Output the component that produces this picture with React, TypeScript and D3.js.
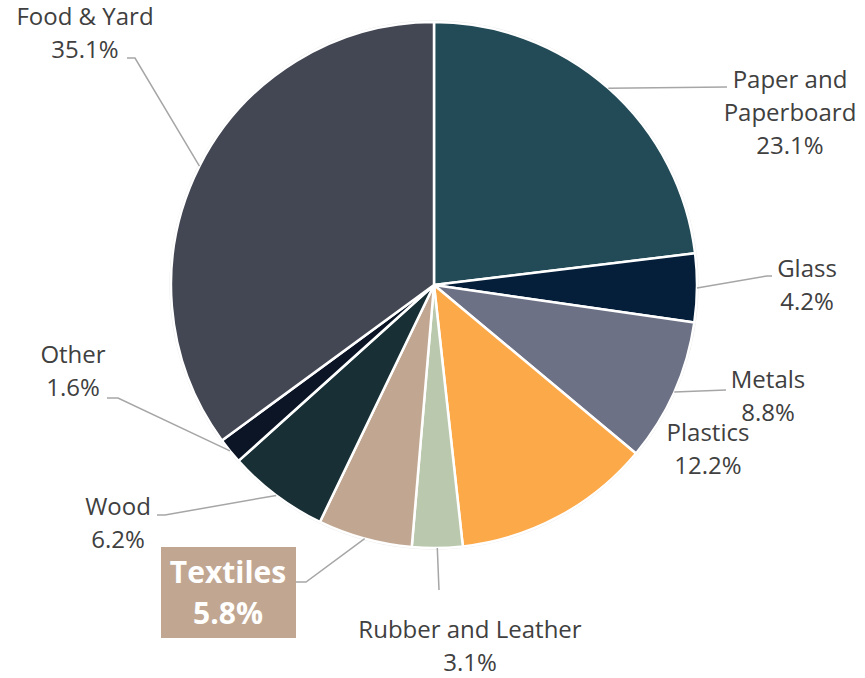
import React, { useRef, useEffect } from 'react';
import * as d3 from 'd3';

const categories = [
  'Paper and Paperboard',
  'Glass',
  'Metals',
  'Plastics',
  'Rubber and Leather',
  'Textiles',
  'Wood',
  'Other',
  'Food & Yard',
];
const shares = [23.1, 4.2, 8.8, 12.2, 3.1, 5.8, 6.2, 1.6, 35.1];
const colors = [
  '#224b57',
  '#051e3a',
  '#6d7186',
  '#fca94a',
  '#bac8ad',
  '#c1a792',
  '#172f35',
  '#0b1526',
  '#434653',
];

// label text lines and where they sit (layout only)
const labelLines: string[][] = [
  ['Paper and', 'Paperboard'],
  ['Glass'],
  ['Metals'],
  ['Plastics'],
  ['Rubber and Leather'],
  ['Textiles'],
  ['Wood'],
  ['Other'],
  ['Food & Yard'],
];
// [label center x, first baseline y, leader elbow x, leader elbow y, leader end x]
const labelLayout: (number[] | null)[] = [
  [790, 88, 727, 87, 727],
  [807, 277, 767, 276, 772],
  [768, 388, 726, 390, 726],
  [708, 441, -1, -1, -1],
  [470, 638, 439, 590, 439],
  [228, 583, 306, 582, 296],
  [118, 515, 165, 515, 157],
  [73, 363, 118, 398, 107],
  [85, 25, 135, 58, 127],
];

const W = 865;
const H = 678;
const CX = 434;
const CY = 285;
const R = 263;

const App: React.FC = () => {
  const svgRef = useRef<SVGSVGElement | null>(null);

  useEffect(() => {
    const svg = d3.select(svgRef.current);
    svg.selectAll('*').remove();

    const data = categories.map((c, i) => ({ label: c, value: shares[i], i }));
    const pie = d3.pie<any>().value((d: any) => d.value).sort(null);
    const arcs = pie(data);
    const arc = d3.arc<any>().innerRadius(0).outerRadius(R);
    const edge = d3.arc<any>().innerRadius(R).outerRadius(R);

    const g = svg.append('g').attr('transform', `translate(${CX},${CY})`);

    g.append('circle').attr('r', R + 1).attr('fill', 'none').attr('stroke', '#e4e4e4').attr('stroke-width', 1);

    g.selectAll('path.slice')
      .data(arcs)
      .enter()
      .append('path')
      .attr('class', 'slice')
      .attr('d', arc as any)
      .attr('fill', (d: any) => colors[d.data.i])
      .attr('stroke', '#ffffff')
      .attr('stroke-width', 2.5)
      .attr('stroke-linejoin', 'round');

    const font = "'Open Sans', 'Noto Sans', sans-serif";

    arcs.forEach((a: any) => {
      const i = a.data.i;
      const lay = labelLayout[i];
      if (!lay) return;
      const [lx, ly, ex, ey, endX] = lay;
      const [sx, sy] = edge.centroid(a);
      if (ex >= 0) {
        svg.append('path')
          .attr('d', `M${sx + CX},${sy + CY}L${ex},${ey}L${endX},${ey}`)
          .attr('fill', 'none')
          .attr('stroke', '#a6a6a6')
          .attr('stroke-width', 1.5);
      }
      const pct = `${d3.format('.1f')(a.data.value)}%`;
      const lines = [...labelLines[i], pct];
      if (a.data.label === 'Textiles') {
        svg.append('rect')
          .attr('x', 161).attr('y', 547).attr('width', 135).attr('height', 91)
          .attr('fill', colors[i]);
        lines.forEach((t, k) => {
          svg.append('text')
            .attr('x', lx).attr('y', ly + k * 41)
            .attr('text-anchor', 'middle')
            .attr('font-family', font)
            .attr('font-size', 30)
            .attr('font-weight', 700)
            .attr('fill', '#ffffff')
            .text(t);
        });
        return;
      }
      lines.forEach((t, k) => {
        svg.append('text')
          .attr('x', lx).attr('y', ly + k * 33)
          .attr('text-anchor', 'middle')
          .attr('font-family', font)
          .attr('font-size', 24)
          .attr('fill', '#404040')
          .text(t);
      });
    });
  }, []);

  return (
    <div style={{ position: 'absolute', left: 0, top: 0 }}>
      <svg ref={svgRef} width={W} height={H} style={{ display: 'block', background: '#ffffff' }} />
    </div>
  );
};

export default App;
